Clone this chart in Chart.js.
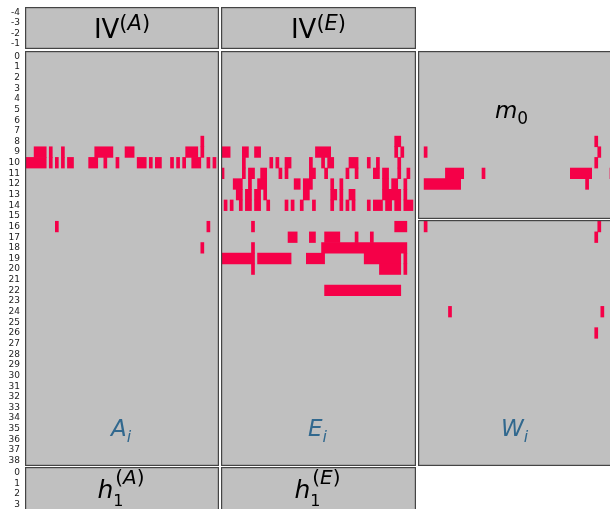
<!DOCTYPE html>
<html>
<head>
<meta charset="utf-8">
<script src="https://cdn.jsdelivr.net/npm/chart.js@4/dist/chart.umd.min.js"></script>
<style>
  html, body { margin: 0; padding: 0; background: #fff; }
  body { position: relative; width: 610px; height: 509px; overflow: hidden; }
  canvas { position: absolute; }
</style>
</head>
<body>
<script>
// Marked cells, one entry per horizontal run: [row, first column, last column]
const cellsA = [
  [8, 58, 58],
  [9, 3, 6], [9, 8, 8], [9, 12, 12], [9, 23, 28], [9, 33, 35], [9, 53, 56], [9, 58, 58],
  [10, 0, 6], [10, 8, 8], [10, 10, 10], [10, 12, 12], [10, 14, 15], [10, 21, 23], [10, 26, 26],
  [10, 30, 30], [10, 37, 39], [10, 41, 41], [10, 43, 44], [10, 48, 48], [10, 50, 50],
  [10, 52, 52], [10, 55, 57], [10, 60, 60], [10, 62, 62],
  [16, 10, 10], [16, 60, 60],
  [18, 58, 58]
];

const cellsE = [
  [8, 57, 58],
  [9, 0, 2], [9, 7, 8], [9, 11, 12], [9, 31, 35], [9, 57, 57], [9, 59, 59],
  [10, 7, 7], [10, 16, 16], [10, 18, 18], [10, 21, 22], [10, 29, 29], [10, 33, 33],
  [10, 35, 36], [10, 42, 44], [10, 48, 48], [10, 51, 51], [10, 58, 58],
  [11, 0, 0], [11, 7, 7], [11, 9, 10], [11, 13, 14], [11, 19, 19], [11, 21, 21], [11, 29, 30],
  [11, 34, 34], [11, 41, 41], [11, 44, 44], [11, 50, 51], [11, 53, 54], [11, 58, 58], [11, 61, 61],
  [12, 4, 6], [12, 9, 9], [12, 12, 14], [12, 24, 25], [12, 27, 29], [12, 36, 36], [12, 39, 39],
  [12, 53, 54], [12, 56, 57], [12, 60, 60],
  [13, 5, 6], [13, 8, 9], [13, 11, 12], [13, 14, 14], [13, 27, 28], [13, 36, 37], [13, 39, 39],
  [13, 42, 43], [13, 53, 58], [13, 60, 60],
  [14, 1, 1], [14, 3, 3], [14, 6, 6], [14, 8, 9], [14, 11, 12], [14, 15, 15], [14, 21, 21],
  [14, 23, 23], [14, 26, 26], [14, 30, 30], [14, 36, 36], [14, 39, 39], [14, 41, 41], [14, 43, 43],
  [14, 48, 48], [14, 50, 52], [14, 54, 55], [14, 57, 58], [14, 60, 62],
  [16, 10, 10], [16, 57, 60],
  [17, 22, 24], [17, 29, 30], [17, 34, 38], [17, 44, 44], [17, 49, 49],
  [18, 10, 10], [18, 33, 60],
  [19, 0, 10], [19, 12, 22], [19, 28, 33], [19, 47, 58], [19, 60, 60],
  [20, 10, 10], [20, 52, 58], [20, 60, 60],
  [22, 34, 58]
];

const cellsM0 = [
  [8, 58, 58],
  [9, 2, 2], [9, 59, 59],
  [10, 58, 58],
  [11, 9, 14], [11, 21, 21], [11, 50, 56], [11, 63, 63],
  [12, 2, 13], [12, 55, 55]
];

const cellsW = [
  [16, 2, 2], [16, 59, 59],
  [17, 58, 58],
  [24, 10, 10], [24, 60, 60],
  [26, 58, 58]
];

// Row labels on the left edge of each band
const topTicks = [-4, -3, -2, -1];
const mainTicks = [0, 1, 2, 3, 4, 5, 6, 7, 8, 9, 10, 11, 12, 13, 14, 15, 16, 17, 18, 19,
                   20, 21, 22, 23, 24, 25, 26, 27, 28, 29, 30, 31, 32, 33, 34, 35, 36, 37, 38];
const bottomTicks = [0, 1, 2, 3];

const COLUMNS = 64;
const PANEL_FILL = '#c0c0c0';
const PANEL_EDGE = '#444444';
const CELL_FILL = 'rgb(245, 0, 72)';
const LABEL_BLUE = '#31688e';
const FAMILY = '"DejaVu Sans", sans-serif';

Chart.defaults.font.family = FAMILY;

function fontOf(s) {
  return (s.it ? 'italic ' : '') + s.size + 'px ' + FAMILY;
}

// Lays out a small piece of math-style text (base runs, sub/superscript stacks) and centers it.
function drawMath(ctx, label, cx, baseY) {
  const items = [];
  let x = 0;
  for (const p of label.parts) {
    if (p.stack) {
      let w = 0;
      for (const row of p.stack) {
        let rx = x + (row.ox || 0);
        for (const s of row.segs) {
          ctx.font = fontOf(s);
          const sw = ctx.measureText(s.t).width;
          items.push({ s, x: rx, dy: row.dy || 0 });
          rx += sw;
        }
        w = Math.max(w, rx - x);
      }
      x += w;
    } else {
      ctx.font = fontOf(p);
      const sw = ctx.measureText(p.t).width;
      items.push({ s: p, x, dy: p.dy || 0 });
      x += sw;
    }
  }
  const left = cx - x / 2 + (label.dx || 0);
  ctx.save();
  ctx.fillStyle = label.color;
  ctx.textAlign = 'left';
  ctx.textBaseline = 'alphabetic';
  for (const it of items) {
    ctx.font = fontOf(it.s);
    ctx.fillText(it.s.t, left + it.x, baseY + it.dy);
  }
  ctx.restore();
}

function supParen(letter, size, dy, ox) {
  return { dy, ox: ox || 0, segs: [{ t: '(', size }, { t: letter, size, it: true }, { t: ')', size }] };
}

const labelIV = (letter) => ({
  parts: [{ t: 'IV', size: 26 }, { stack: [supParen(letter, 21, -8)] }],
  base: 31, dx: 0, color: '#000'
});
const labelH = (letter) => ({
  parts: [{ t: 'h', size: 25, it: true },
          { stack: [{ dy: 8, segs: [{ t: '1', size: 16 }] }, supParen(letter, 20, -14, 2)] }],
  base: 31, dx: -1, color: '#000'
});
const labelSub = (letter, base) => ({
  parts: [{ t: letter, size: 23, it: true }, { t: 'i', size: 16, it: true, dy: 6 }],
  base, dx: -1, color: LABEL_BLUE
});
const labelM0 = {
  parts: [{ t: 'm', size: 23, it: true }, { t: '0', size: 17, dy: 6 }],
  base: 67, dx: -4, color: '#000'
};

// Grey framed panel with its caption
function framePlugin(label) {
  return {
    id: 'panelFrame',
    beforeDraw(chart) {
      const a = chart.chartArea, ctx = chart.ctx;
      ctx.save();
      ctx.fillStyle = PANEL_FILL;
      ctx.fillRect(a.left, a.top, a.right - a.left, a.bottom - a.top);
      ctx.restore();
    },
    afterDraw(chart) {
      const a = chart.chartArea, ctx = chart.ctx;
      ctx.save();
      ctx.strokeStyle = PANEL_EDGE;
      ctx.lineWidth = 1.2;
      ctx.strokeRect(a.left + 0.6, a.top + 0.6, a.right - a.left - 1.2, a.bottom - a.top - 1.2);
      ctx.restore();
      if (label) drawMath(ctx, label, (a.left + a.right) / 2, a.top + label.base);
    }
  };
}

// Columns and bands of the grid
const colA = [25, 219], colE = [221, 416], colW = [418, 613];
const bandTop = [7, 49], bandMain = [51, 466], bandBottom = [467, 537];
const PAD = 2;

function addPanel(cfg) {
  const [x0, x1] = cfg.col, [y0, y1] = cfg.band;
  const withAxis = !!cfg.ticks;
  const canvas = document.createElement('canvas');
  const left = withAxis ? 0 : x0 - PAD;
  canvas.width = x1 + PAD - left;
  canvas.height = y1 - y0 + 2 * PAD;
  canvas.style.left = left + 'px';
  canvas.style.top = (y0 - PAD) + 'px';
  document.body.appendChild(canvas);

  const yScale = {
    type: 'linear', reverse: true, min: cfg.rows[0], max: cfg.rows[1], offset: false,
    display: withAxis,
    grid: { display: false, drawTicks: false },
    border: { display: false }
  };
  if (withAxis) {
    yScale.afterBuildTicks = (s) => { s.ticks = cfg.ticks.map((v) => ({ value: v })); };
    yScale.afterFit = (s) => {
      s.width = x0;
      s.paddingTop = 0;
      s.paddingBottom = 0;
      s.paddingLeft = 0;
      s.paddingRight = 0;
    };
    yScale.ticks = {
      autoSkip: false, padding: 5, color: '#222', maxRotation: 0,
      font: { size: 9, family: FAMILY },
      callback: (v) => String(v)
    };
  }

  new Chart(canvas, {
    type: 'bar',
    data: {
      datasets: [{
        data: (cfg.cells || []).map(([r, a, b]) => ({ y: r, x: [a, b + 1] })),
        backgroundColor: CELL_FILL,
        borderWidth: 0,
        barPercentage: 1,
        categoryPercentage: 1
      }]
    },
    options: {
      indexAxis: 'y',
      responsive: false,
      animation: false,
      devicePixelRatio: 1,
      events: [],
      layout: { padding: { left: withAxis ? 0 : PAD, right: PAD, top: PAD, bottom: PAD } },
      scales: {
        x: { type: 'linear', min: 0, max: COLUMNS, display: false },
        y: yScale
      },
      plugins: { legend: { display: false }, tooltip: { enabled: false } }
    },
    plugins: [framePlugin(cfg.label)]
  });
}

// Row pitch of the main band, used to place the split panels of the third column
const pitch = (bandMain[1] - bandMain[0]) / 39;
const rowAt = (y) => -0.5 + (y - bandMain[0]) / pitch;
const bottomRows = [-0.5, -0.5 + (bandBottom[1] - bandBottom[0]) / 10.8];

addPanel({ col: colA, band: bandTop, rows: [-4.5, -0.5], ticks: topTicks, label: labelIV('A') });
addPanel({ col: colE, band: bandTop, rows: [-4.5, -0.5], label: labelIV('E') });

addPanel({ col: colA, band: bandMain, rows: [-0.5, 38.5], ticks: mainTicks, cells: cellsA, label: labelSub('A', 385) });
addPanel({ col: colE, band: bandMain, rows: [-0.5, 38.5], cells: cellsE, label: labelSub('E', 385) });
addPanel({ col: colW, band: [51, 219], rows: [rowAt(51), rowAt(219)], cells: cellsM0, label: labelM0 });
addPanel({ col: colW, band: [220, 466], rows: [rowAt(220), 38.5], cells: cellsW, label: labelSub('W', 216) });

addPanel({ col: colA, band: bandBottom, rows: bottomRows, ticks: bottomTicks, label: labelH('A') });
addPanel({ col: colE, band: bandBottom, rows: bottomRows, label: labelH('E') });
</script>
</body>
</html>
